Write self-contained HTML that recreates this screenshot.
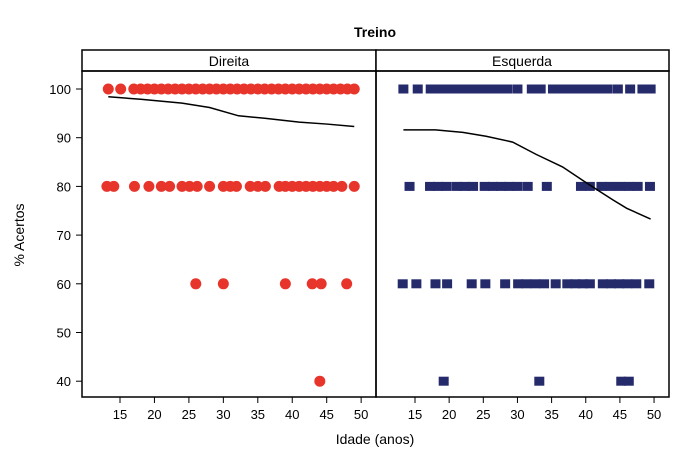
<!DOCTYPE html>
<html><head><meta charset="utf-8"><style>
body{margin:0;background:#fff;}
svg{display:block;font-family:"Liberation Sans",Arial,sans-serif;}
</style></head><body>
<svg id="chart" width="700" height="458" viewBox="0 0 700 458" xmlns="http://www.w3.org/2000/svg">
<text x="375" y="37" text-anchor="middle" font-size="14" font-weight="bold">Treino</text>
<rect x="82" y="50" width="294" height="21" fill="#fff" stroke="#000" stroke-width="1.5"/>
<rect x="376" y="50" width="293" height="21" fill="#fff" stroke="#000" stroke-width="1.5"/>
<text x="229" y="66" text-anchor="middle" font-size="14">Direita</text>
<text x="522" y="66" text-anchor="middle" font-size="14">Esquerda</text>
<rect x="82" y="71" width="294" height="326" fill="none" stroke="#000" stroke-width="1.5"/>
<rect x="376" y="71" width="293" height="326" fill="none" stroke="#000" stroke-width="1.5"/>
<text transform="translate(24,235) rotate(-90)" text-anchor="middle" font-size="14">% Acertos</text>
<text x="375" y="444" text-anchor="middle" font-size="14">Idade (anos)</text>
<g id="marks"></g>
</svg>
<script>
const yTicks=[40,50,60,70,80,90,100];
const xTicks=[15,20,25,30,35,40,45,50];
const leftAges100=[13.3,15.1,17,18,19,20,21,22,23,24,25,26,27,28,29,30,31,32,33,34,35,36,37,38,39,40,41,42,43,44,45,46,47,48,49];
const leftAges80=[13.1,14.1,17.1,19.2,21,22.2,24,25.1,26.2,28,30,31,31.9,33.9,35,36.1,38.1,39,40,41,42,43,44,45,46,47.2,49];
const leftAges60=[26,30,39,42.9,44.2,47.9];
const leftAges40=[44];
const rightAges100=[13.3,15.4,17.3,18.5,19.5,20.5,21.5,22.5,23.5,24.5,25.5,26.5,27.5,28.5,30,32.1,33.4,35.2,36.2,37.2,38.2,39.2,40.2,41.2,42.2,43.2,44.7,46.5,48.3,49.5];
const rightAges80=[14.2,17.2,18.4,19.6,21.1,22.3,23.5,25.2,26.4,27.6,28.8,30,31.5,34.3,39.3,40.6,42.3,43.6,45,46.3,47.6,49.4];
const rightAges60=[13.2,15.2,18,19.7,23.3,25.3,28.2,30.1,31.3,32.6,33.9,35.6,37.3,38.5,39.6,40.6,42.5,43.7,44.9,46.1,47.4,49.3];
const rightAges40=[19.2,33.2,45.2,46.3];
const leftSmoothAge=[13.3,18,24,28,32.2,36,41,45,49];
const leftSmoothVal=[98.4,97.9,97.1,96.2,94.5,94,93.2,92.8,92.3];
const rightSmoothAge=[13.3,18,22,25.4,29.3,32.7,36.6,39.5,42,44,46,49.5];
const rightSmoothVal=[91.6,91.6,91.1,90.3,89.1,86.6,84,81.3,79,77.2,75.5,73.3];

const yS=v=>89+(100-v)*4.87;
const xL=a=>120+(a-15)*6.89;
const xR=a=>415+(a-15)*6.83;
const svg=document.getElementById('marks');
const NS='http://www.w3.org/2000/svg';
function mk(t,attrs){const e=document.createElementNS(NS,t);for(const k in attrs)e.setAttribute(k,attrs[k]);svg.appendChild(e);return e;}

yTicks.forEach(v=>{
  const l=mk('line',{x1:76,x2:82,y1:yS(v),y2:yS(v),stroke:'#000'});
  
  
  const t=mk('text',{x:71,y:yS(v)+5,'text-anchor':'end','font-size':13});
  t.textContent=v;
  
  
});
[xL,xR].forEach(fx=>{
  xTicks.forEach(a=>{
    const l=mk('line',{x1:fx(a),x2:fx(a),y1:397,y2:403,stroke:'#000'});
    
    
    const t=mk('text',{x:fx(a),y:419,'text-anchor':'middle','font-size':13});
    t.textContent=a;
    
    
  });
});
[[leftAges100,100],[leftAges80,80],[leftAges60,60],[leftAges40,40]].forEach(([arr,v])=>{
  arr.forEach(a=>{
    const c=mk('circle',{cx:xL(a),cy:yS(v),r:5.5,fill:'#e8352b'});
    
    
  });
});
[[rightAges100,100],[rightAges80,80],[rightAges60,60],[rightAges40,40]].forEach(([arr,v])=>{
  arr.forEach(a=>{
    const r=mk('rect',{x:xR(a)-5,y:yS(v)-4.5,width:10,height:9,fill:'#252a6b'});
    
    
  });
});
const pl=mk('polyline',{points:leftSmoothAge.map((a,i)=>xL(a)+','+yS(leftSmoothVal[i])).join(' '),fill:'none',stroke:'#000','stroke-width':1.5});


const pr=mk('polyline',{points:rightSmoothAge.map((a,i)=>xR(a)+','+yS(rightSmoothVal[i])).join(' '),fill:'none',stroke:'#000','stroke-width':1.5});


</script>
</body></html>
